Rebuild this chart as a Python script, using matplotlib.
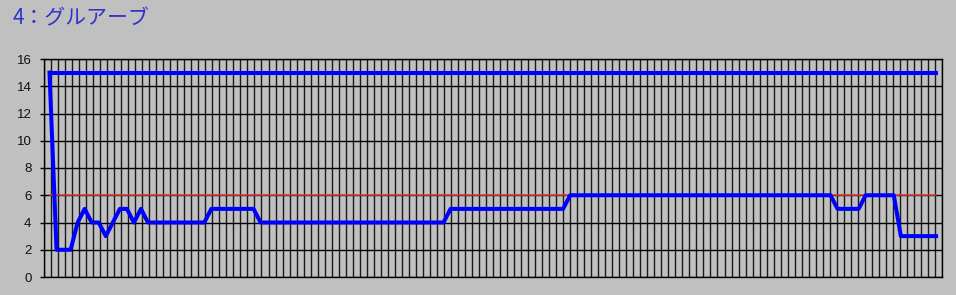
import numpy as np
import matplotlib
matplotlib.use("Agg")
import matplotlib.pyplot as plt

# ---- data ----
title = "4：グルアーブ"
y_ticks = [0, 2, 4, 6, 8, 10, 12, 14, 16]

level = [
    15, 2, 2, 2, 4, 5, 4, 4, 3, 4, 5, 5, 4, 5,                  # 0-13
    4, 4, 4, 4, 4, 4, 4, 4, 4,                                   # 14-22
    5, 5, 5, 5, 5, 5, 5,                                         # 23-29
    4, 4, 4, 4, 4, 4, 4, 4, 4, 4, 4, 4, 4, 4,                    # 30-43
    4, 4, 4, 4, 4, 4, 4, 4, 4, 4, 4, 4, 4,                       # 44-56
    5, 5, 5, 5, 5, 5, 5, 5, 5, 5, 5, 5, 5, 5, 5, 5, 5,           # 57-73
    6, 6, 6, 6, 6, 6, 6, 6, 6, 6, 6, 6, 6, 6, 6, 6, 6, 6, 6,     # 74-92
    6, 6, 6, 6, 6, 6, 6, 6, 6, 6, 6, 6, 6, 6, 6, 6, 6, 6, 6,     # 93-111
    5, 5, 5, 5,                                                  # 112-115
    6, 6, 6, 6, 6,                                               # 116-120
    3, 3, 3, 3, 3, 3,                                            # 121-126
]
upper = [15] * len(level)
target = [6] * len(level)

# ---- figure ----
W, H = 956, 295
fig = plt.figure(figsize=(W / 100, H / 100), dpi=100)
bg = "#C0C0C0"
fig.patch.set_facecolor(bg)

L, R, T, B = 44, 942, 59, 277
ax = fig.add_axes([L / W, 1 - B / H, (R - L) / W, (B - T) / H])
ax.set_facecolor(bg)

x = np.arange(len(level))
step = 7.036
x0 = 49.5
xmin = (L - x0) / step
xmax = (R - x0) / step
ax.set_xlim(xmin, xmax)
ax.set_ylim(0, 16)

# grid
ax.set_xticks(np.linspace(xmin, xmax, 129))
ax.set_xticklabels([])
ax.tick_params(axis="x", length=0)
ax.set_yticks(y_ticks)
ax.set_yticklabels([str(v) for v in y_ticks], fontfamily="Liberation Sans",
                   fontsize=9.5, color="#111111")
ax.tick_params(axis="y", direction="out", length=3, width=1, pad=6, color="#000000")
ax.grid(True, axis="x", color="#1a1a1a", linewidth=1.0)
ax.grid(True, axis="y", color="#000000", linewidth=1.0)
ax.set_axisbelow(True)
for s in ax.spines.values():
    s.set_color("#000000")
    s.set_linewidth(1.0)

# series
ax.plot(x, target, color="#E33B3B", linewidth=1.1, zorder=3)
ax.plot(x, upper, color="#0000FF", linewidth=2.9, zorder=4)
ax.plot(x, level, color="#0000FF", linewidth=2.9, zorder=5)

fig.text(13 / W, 1 - 18 / H, title, family=["Noto Sans CJK JP", "DejaVu Sans"],
         fontsize=15, color="#3333CC", ha="left", va="center")

fig.savefig("out.png", dpi=100, facecolor=bg)
